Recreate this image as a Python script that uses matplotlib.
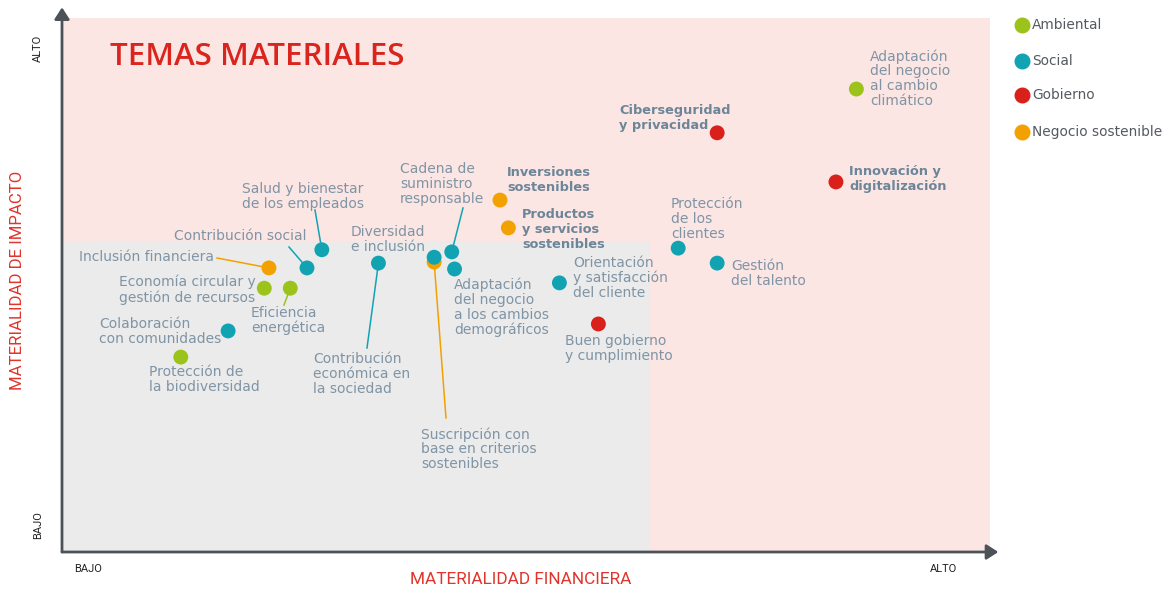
import matplotlib
matplotlib.use('Agg')

import matplotlib.pyplot as plt
from matplotlib.patches import Rectangle

# Data: position on a 0-100 scale (x = financial materiality, y = impact materiality)
topics = [
    "Adaptación del negocio al cambio climático", "Ciberseguridad y privacidad",
    "Innovación y digitalización", "Inversiones sostenibles",
    "Productos y servicios sostenibles", "Protección de los clientes",
    "Gestión del talento", "Orientación y satisfacción del cliente",
    "Buen gobierno y cumplimiento", "Cadena de suministro responsable",
    "Adaptación del negocio a los cambios demográficos", "Suscripción con base en criterios sostenibles",
    "Diversidad e inclusión", "Contribución económica en la sociedad",
    "Salud y bienestar de los empleados", "Contribución social",
    "Inclusión financiera", "Economía circular y gestión de recursos",
    "Eficiencia energética", "Colaboración con comunidades",
    "Protección de la biodiversidad",
]
fin_x = [85.6, 70.6, 83.4, 47.2, 48.1, 66.4, 70.6, 53.6, 57.8, 42.0, 42.3,
         40.1, 40.1, 34.1, 28.0, 26.4, 22.3, 21.8, 24.6, 17.9, 12.8]
imp_y = [86.7, 78.5, 69.3, 65.9, 60.7, 56.9, 54.1, 50.4, 42.7, 56.2, 53.0,
         54.3, 55.2, 54.1, 56.6, 53.2, 53.2, 49.4, 49.4, 41.4, 36.5]
group = ["Ambiental", "Gobierno", "Gobierno", "Negocio sostenible", "Negocio sostenible",
         "Social", "Social", "Social", "Gobierno", "Social", "Social",
         "Negocio sostenible", "Social", "Social", "Social", "Social",
         "Negocio sostenible", "Ambiental", "Ambiental", "Social", "Ambiental"]

groups = ["Ambiental", "Social", "Gobierno", "Negocio sostenible"]
group_colors = {"Ambiental": "#9cc31c", "Social": "#12a3b3",
                "Gobierno": "#d9201b", "Negocio sostenible": "#f2a100"}
bold_topics = {"Ciberseguridad y privacidad", "Innovación y digitalización",
               "Inversiones sostenibles", "Productos y servicios sostenibles"}

W, H = 1170, 590
AX_L, AX_R, AX_T, AX_B = 62, 990, 18, 552


def px(xp, yp):
    """pixel position in the figure -> data coords (0-100)"""
    return ((xp - AX_L) / (AX_R - AX_L) * 100, (AX_B - yp) / (AX_B - AX_T) * 100)


# label text, top-left pixel anchor, leader line end (pixel) or None
labels = {
    "Adaptación del negocio al cambio climático": ("Adaptación\ndel negocio\nal cambio\nclimático", (870, 49), None),
    "Ciberseguridad y privacidad": ("Ciberseguridad\ny privacidad", (619, 104), None),
    "Innovación y digitalización": ("Innovación y\ndigitalización", (849, 165), None),
    "Inversiones sostenibles": ("Inversiones\nsostenibles", (507, 166), None),
    "Productos y servicios sostenibles": ("Productos\ny servicios\nsostenibles", (522, 208), None),
    "Protección de los clientes": ("Protección\nde los\nclientes", (671, 197), None),
    "Gestión del talento": ("Gestión\ndel talento", (731, 259), None),
    "Orientación y satisfacción del cliente": ("Orientación\ny satisfacción\ndel cliente", (573, 256), None),
    "Buen gobierno y cumplimiento": ("Buen gobierno\ny cumplimiento", (565, 334), None),
    "Cadena de suministro responsable": ("Cadena de\nsuministro\nresponsable", (400, 162), (463, 208)),
    "Adaptación del negocio a los cambios demográficos": ("Adaptación\ndel negocio\na los cambios\ndemográficos", (454, 278), None),
    "Suscripción con base en criterios sostenibles": ("Suscripción con\nbase en criterios\nsostenibles", (421, 427), (446, 418)),
    "Diversidad e inclusión": ("Diversidad\ne inclusión", (351, 225), None),
    "Contribución económica en la sociedad": ("Contribución\neconómica en\nla sociedad", (313, 352), (367, 348)),
    "Salud y bienestar de los empleados": ("Salud y bienestar\nde los empleados", (242, 182), (315, 210)),
    "Contribución social": ("Contribución social", (174, 229), (289, 247)),
    "Inclusión financiera": ("Inclusión financiera", (79, 250), (217, 258)),
    "Economía circular y gestión de recursos": ("Economía circular y\ngestión de recursos", (119, 275), None),
    "Eficiencia energética": ("Eficiencia\nenergética", (251, 306), (284, 305)),
    "Colaboración con comunidades": ("Colaboración\ncon comunidades", (99, 317), None),
    "Protección de la biodiversidad": ("Protección de\nla biodiversidad", (149, 365), None),
}

plt.rcParams['font.family'] = ['DejaVu Sans']
text_col = "#7f94a5"
bold_col = "#6d8598"
axis_col = "#4d5258"

fig = plt.figure(figsize=(W / 100, H / 100), dpi=100)
ax = fig.add_axes([AX_L / W, 1 - AX_B / H, (AX_R - AX_L) / W, (AX_B - AX_T) / H])
ax.set_xlim(0, 100)
ax.set_ylim(0, 100)
ax.axis('off')

# background zones
ax.add_patch(Rectangle((0, 0), 100, 100, color="#fbe6e4", zorder=0))
gx, gy = px(648, 242)
ax.add_patch(Rectangle((0, 0), gx, gy, color="#ebebeb", zorder=1))

# axes with arrows
ax.annotate("", xy=(0, 1.02), xytext=(0, 0), xycoords='axes fraction',
            arrowprops=dict(arrowstyle='-|>,head_length=0.7,head_width=0.45', color=axis_col, lw=2,
                            shrinkA=0, shrinkB=0), annotation_clip=False, zorder=5)
ax.annotate("", xy=(1.009, 0), xytext=(0, 0), xycoords='axes fraction',
            arrowprops=dict(arrowstyle='-|>,head_length=0.7,head_width=0.45', color=axis_col, lw=2,
                            shrinkA=0, shrinkB=0), annotation_clip=False, zorder=5)

# leader lines + labels
for name, x, y, g in zip(topics, fin_x, imp_y, group):
    text, (lx, ly), lead = labels[name]
    if lead is not None:
        ax.plot([px(*lead)[0], x], [px(*lead)[1], y], color=group_colors[g], lw=1.1, zorder=3)
    bold = name in bold_topics
    tx, ty = px(lx, ly)
    ax.text(tx, ty, text, ha='left', va='top',
            fontsize=9.3 if bold else 10,
            fontweight='bold' if bold else 'normal',
            color=bold_col if bold else text_col,
            linespacing=1.2 if bold else 1.07, zorder=6)

ax.scatter(fin_x, imp_y, s=115, c=[group_colors[g] for g in group], edgecolors='none', zorder=4)

# title and axis texts
ax.text(*px(110, 57), "TEMAS MATERIALES", fontsize=22.5, fontweight='semibold', family='Open Sans',
        color="#d9251d", ha='left', va='center', zorder=6)
fig.text(18 / W, 1 - 280 / H, "MATERIALIDAD DE IMPACTO", rotation=90, color="#e0342c",
         fontsize=12.1, ha='center', va='center', family='Roboto')
fig.text(521 / W, 1 - 579 / H, "MATERIALIDAD FINANCIERA", color="#e0342c",
         fontsize=12.4, ha='center', va='center', family='Roboto')
fig.text(38 / W, 1 - 48 / H, "ALTO", rotation=90, fontsize=8, color="#222222", ha='center', va='center', family='Roboto')
fig.text(38 / W, 1 - 525 / H, "BAJO", rotation=90, fontsize=8, color="#222222", ha='center', va='center', family='Roboto')
fig.text(88 / W, 1 - 569 / H, "BAJO", fontsize=8, color="#222222", ha='center', va='center', family='Roboto')
fig.text(943 / W, 1 - 569 / H, "ALTO", fontsize=8, color="#222222", ha='center', va='center', family='Roboto')

# legend
legend_y = [25, 61, 95, 132]
for g, ly in zip(groups, legend_y):
    fig.lines.append(plt.Line2D([1022 / W], [1 - ly / H], marker='o', markersize=10.5, color=group_colors[g],
                                linestyle='none', transform=fig.transFigure))
    fig.text(1032 / W, 1 - ly / H, g, fontsize=9.9, color="#555a60", ha='left', va='center')

fig.savefig("out.png", dpi=100)
plt.close(fig)
